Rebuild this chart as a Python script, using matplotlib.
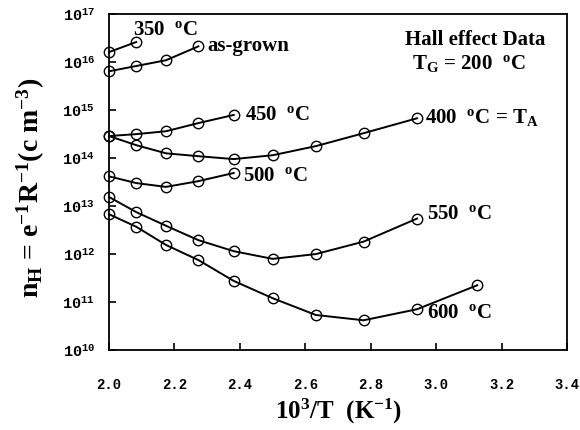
import matplotlib
matplotlib.use("Agg")
import matplotlib.pyplot as plt
import numpy as np

plt.rcParams['font.family'] = ['Liberation Serif', 'DejaVu Serif']
plt.rcParams['font.weight'] = 'bold'
plt.rcParams['axes.labelweight'] = 'bold'
plt.rcParams['mathtext.fontset'] = 'custom'
plt.rcParams['mathtext.rm'] = 'Liberation Serif:bold'
plt.rcParams['mathtext.it'] = 'Liberation Serif:bold'
plt.rcParams['mathtext.bf'] = 'Liberation Serif:bold'
plt.rcParams['mathtext.tt'] = 'Liberation Mono:bold'

# inverse temperature, 10^3/T (K^-1)
x_all = [2.0, 2.083, 2.174, 2.273, 2.381, 2.5, 2.632, 2.778, 2.941, 3.125]

# log10 of carrier concentration (cm^-3)
log_350 = [16.21, 16.42]
log_asgrown = [15.81, 15.92, 16.04, 16.33]
log_450 = [14.46, 14.50, 14.56, 14.73, 14.90]
log_400 = [14.46, 14.27, 14.10, 14.04, 13.98, 14.06, 14.25, 14.52, 14.83]
log_500 = [13.62, 13.48, 13.40, 13.52, 13.69]
log_550 = [13.19, 12.875, 12.59, 12.29, 12.06, 11.90, 12.00, 12.26, 12.74]
log_600 = [12.83, 12.57, 12.19, 11.875, 11.44, 11.08, 10.73, 10.62, 10.85, 11.35]

series = [log_350, log_asgrown, log_450, log_400, log_500, log_550, log_600]

xticks = [2.0, 2.2, 2.4, 2.6, 2.8, 3.0, 3.2, 3.4]
yexp = [10, 11, 12, 13, 14, 15, 16, 17]

fig = plt.figure(figsize=(5.8, 4.3), dpi=100)
ax = fig.add_axes([0.188, 0.186, 0.79, 0.781])

for s in series:
    xs = x_all[:len(s)]
    ys = [10.0 ** v for v in s]
    ax.plot(xs, ys, '-', color='black', lw=1.4, marker='o', ms=7.5,
            mfc='none', mec='black', mew=1.0, clip_on=False)

ax.set_yscale('log')
ax.set_xlim(2.0, 3.4)
ax.set_ylim(1e10, 1e17)
ax.set_xticks(xticks)
ax.set_xticklabels(['%.1f' % t for t in xticks], family='Liberation Mono',
                   fontsize=10, weight='bold')
ax.set_yticks([10.0 ** e for e in yexp])
ax.set_yticklabels([r'$\mathtt{10^{%d}}$' % e for e in yexp], fontsize=11)
ax.yaxis.set_minor_locator(matplotlib.ticker.NullLocator())
ax.tick_params(axis='both', which='major', direction='in', length=5,
               width=1.2, top=False, right=False)
ax.tick_params(axis='x', pad=20)
ax.tick_params(axis='y', pad=10)
for sp in ax.spines.values():
    sp.set_linewidth(1.3)

ax.set_xlabel(r'10$^3$/T  (K$^{-1}$)', fontsize=18, labelpad=4)
ax.set_ylabel(r'n$_{\rm H}$ = e$^{-1}$R$^{-1}$(c m$^{-3}$)', fontsize=20)
ax.yaxis.set_label_coords(-0.135, 0.482)

fs = 15
deg = r'$^{\rm o}$C'
ax.text(2.073, 10 ** 16.67, '350  ' + deg, fontsize=fs, va='center', ha='left')
ax.text(2.30, 10 ** 16.33, 'as-grown', fontsize=fs, va='center', ha='left')
ax.text(2.416, 10 ** 14.9, '450  ' + deg, fontsize=fs, va='center', ha='left')
ax.text(2.966, 10 ** 14.85, '400  ' + deg + r' = T$_{\rm A}$', fontsize=fs, va='center', ha='left')
ax.text(2.41, 10 ** 13.62, '500  ' + deg, fontsize=fs, va='center', ha='left')
ax.text(2.97, 10 ** 12.83, '550  ' + deg, fontsize=fs, va='center', ha='left')
ax.text(2.97, 10 ** 10.77, '600  ' + deg, fontsize=fs, va='center', ha='left')
ax.text(3.12, 10 ** 16.46, 'Hall effect Data', fontsize=fs, va='center', ha='center')
ax.text(3.10, 10 ** 15.98, r'T$_{\rm G}$ = 200  ' + deg, fontsize=fs, va='center', ha='center')

fig.savefig('out.png', dpi=100)
